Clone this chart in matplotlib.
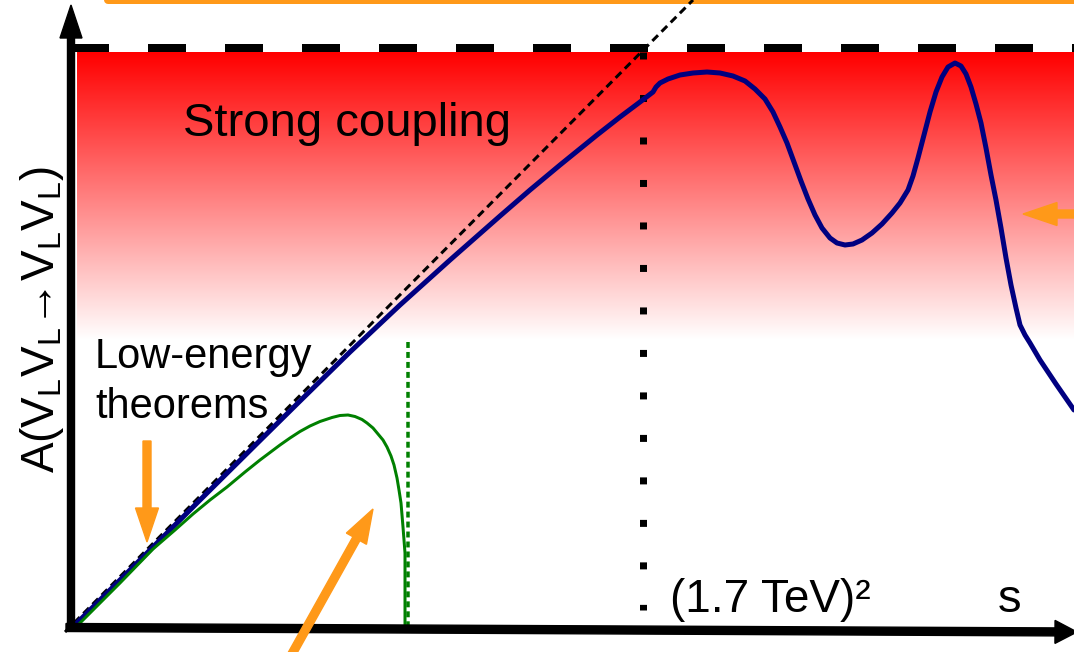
import numpy as np
import matplotlib
matplotlib.use("Agg")
import matplotlib.pyplot as plt
from matplotlib.colors import LinearSegmentedColormap
from matplotlib.patches import FancyArrow

plt.rcParams['font.family'] = ['Liberation Sans', 'DejaVu Sans']
plt.rcParams['mathtext.fontset'] = 'custom'
plt.rcParams['mathtext.rm'] = 'Liberation Sans'
plt.rcParams['mathtext.it'] = 'Liberation Sans:italic'

# schematic units: s along x, amplitude A along y (origin at the axes corner)
blue_s = [1, 79, 129, 189, 229, 279, 329, 379, 429, 459, 489, 526, 549, 569, 582,
          585, 589, 597, 609, 622, 636, 649, 662, 674, 684, 694, 702, 709, 716, 723,
          730, 737, 744, 751, 759, 766, 774, 782, 791, 801, 811, 821, 829, 837, 842,
          847, 853, 859, 865, 871, 877, 884, 890, 895, 900, 905, 910, 915, 920, 925,
          930, 935, 940, 945, 949, 954, 959, 969, 985, 1003]
blue_A = [0, 78, 128, 187.5, 227, 276, 323, 368, 412, 438, 463, 493, 511, 526, 536,
          541, 545, 549, 553, 555, 556, 555, 552, 547, 539, 529, 516, 501, 485, 466,
          447, 429, 413, 400, 390, 385, 383, 384, 388, 395, 404, 415, 425, 438, 452,
          470, 493, 516, 536, 551, 561, 565, 562, 554, 541, 524, 505, 480, 453, 428,
          400, 370, 343, 320, 303, 293, 285, 268, 244, 218]

green_s = [4, 49, 82, 104, 122, 139, 156, 174, 189, 199, 209, 219, 229, 239, 249,
           261, 269, 277, 284, 291, 296, 302, 307, 312, 316, 320, 323, 326, 328, 330,
           331, 332, 333, 334, 334]
green_A = [0, 45, 79, 98, 114, 128, 141, 156, 168, 175.5, 183, 190, 196.5, 202, 206.5,
           210.5, 212.5, 213, 211.5, 208.5, 205, 200, 194, 188, 181, 172, 163, 150,
           138, 125, 113, 101, 88, 75, -2]

let_s = [-6, 622]          # low-energy-theorem straight line
let_A = [-4, 628]
unitarity_A = 580          # dashed bound
strong_lo, strong_hi = 288, 576
s_tev = 572                # (1.7 TeV)^2
s_green = 337
green_cut_top = 286

orange = '#ff9919'
px = 0.72  # points per pixel at dpi 100

fig = plt.figure(figsize=(10.74, 6.52), dpi=100)
ax = fig.add_axes([0, 0, 1, 1])
ax.set_xlim(-71, 1003)
ax.set_ylim(-24, 628)
ax.axis('off')

# strong coupling gradient
cmap = LinearSegmentedColormap.from_list('rw', ['white', 'red'])
grad = np.linspace(0, 1, 256).reshape(-1, 1)
ax.imshow(grad, cmap=cmap, extent=[6, 1003, strong_lo, strong_hi], origin='lower',
          aspect='auto', interpolation='bilinear', zorder=0)

# unitarity bound
ax.plot([0, 1003], [unitarity_A, unitarity_A], color='black', lw=8 * px,
        linestyle=(0, (4.75, 4.875)), zorder=1)

# orange box edge at top
ax.plot([37, 1010], [628.5, 628.5], color=orange, lw=8 * px,
        solid_capstyle='round', clip_on=False, zorder=1)

# low energy theorem line
ax.plot(let_s, let_A, color='black', lw=3 * px, linestyle=(0, (2.67, 1.67)), zorder=2)

# vertical markers
ax.plot([s_tev, s_tev], [576.5, 18.5], color='black', lw=7 * px,
        linestyle=(0, (1, 5.07)), zorder=2)
ax.plot([s_green, s_green], [green_cut_top, 0], color='green', lw=3.5 * px,
        linestyle=(0, (1.7, 1.15)), zorder=2)

ax.plot(blue_s, blue_A, color='#000080', lw=5 * px, zorder=3,
        solid_joinstyle='round', solid_capstyle='round')
ax.plot(green_s, green_A, color='green', lw=3 * px, zorder=4,
        solid_joinstyle='round')

# axes arrows
ax.add_patch(FancyArrow(0, -2, 0, 625, width=7, head_width=22, head_length=33,
                        length_includes_head=True, color='black', zorder=5))
ax.add_patch(FancyArrow(-5, 0.5, 1011, -4.5, width=8, head_width=23, head_length=22,
                        length_includes_head=True, color='black', zorder=5,
                        clip_on=False))

# orange arrows
for (x0, y0, x1, y1) in [(76, 187, 76, 86), (212, -42, 302, 119), (1012, 414, 952, 414)]:
    ax.add_patch(FancyArrow(x0, y0, x1 - x0, y1 - y0, width=8, head_width=23,
                            head_length=34, length_includes_head=True,
                            color=orange, zorder=6, clip_on=False))

ax.text(112, 492, 'Strong coupling', fontsize=34, ha='left', va='baseline')
ax.text(24, 210, 'Low-energy\ntheorems', fontsize=30, ha='left', va='baseline',
        linespacing=1.32)
ax.text(599, 16, '(1.7 TeV)²', fontsize=33, ha='left', va='baseline')
ax.text(927, 16, 's', fontsize=34, ha='left', va='baseline')
ax.text(-17, 308, r'A(V$_\mathrm{L}$V$_\mathrm{L}$→V$_\mathrm{L}$V$_\mathrm{L}$)',
        fontsize=33, rotation=90, rotation_mode='anchor', ha='center', va='baseline')

fig.savefig('out.png', dpi=100)
